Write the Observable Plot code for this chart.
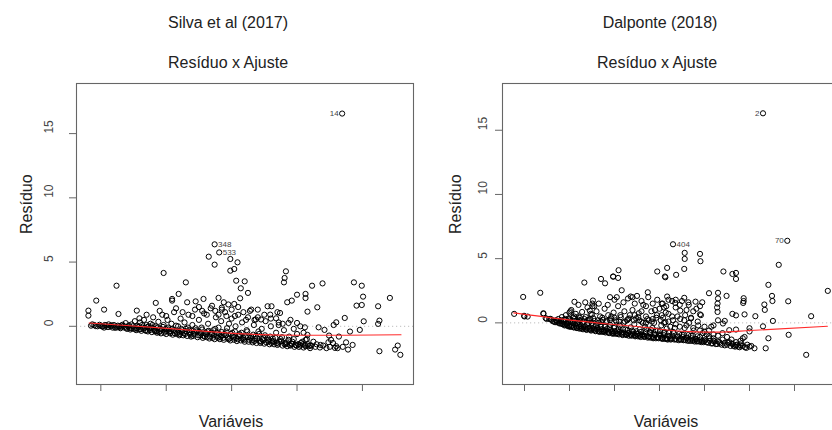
<!DOCTYPE html>
<html>
<head>
<meta charset="utf-8">
<script src="https://cdn.jsdelivr.net/npm/d3@7"></script>
<script src="https://cdn.jsdelivr.net/npm/@observablehq/plot@0.6"></script>
<style>
  html, body { margin: 0; padding: 0; background: #fff; overflow: hidden; }
  #wrap { position: relative; width: 832px; height: 430px; overflow: hidden; font-family: "Liberation Sans", Arial, sans-serif; }
  .t { position: absolute; transform: translate(-50%, -50%); white-space: nowrap; color: #222; font-size: 16px; }
  .panel { position: absolute; top: 0; }
</style>
</head>
<body>
<div id="wrap"></div>
<script>
// ---------------- DATA ----------------
const panelTitles = ["Silva et al (2017)", "Dalponte (2018)"];
const plotTitle = "Resíduo x Ajuste";
const xLabel = "Variáveis";
const yLabel = "Resíduo";
const yTicks = [0, 5, 10, 15];
const silvaXTicks = [1, 2, 3, 4, 5];
const dalponteXTicks = [1, 2, 3, 4, 5, 6, 7];

// Silva et al (2017): sparse points (fitted, residual)
const silvaScatter = [
  [4.69,16.56],[2.74,6.38],[2.81,5.75],[2.65,5.42],[2.74,4.80],[2.98,5.24],[3.09,4.98],[2.98,4.33],
  [3.04,4.46],[3.07,3.55],[3.20,3.50],[3.14,2.96],[3.25,2.60],[3.13,2.18],[3.83,4.28],[3.81,3.76],
  [3.80,3.42],[1.96,4.15],[1.24,3.16],[2.30,3.42],[2.19,2.52],[2.09,2.13],[2.09,2.0],[0.93,2.0],
  [1.05,1.30],[0.81,1.22],[0.81,0.83],[1.27,0.96],[1.55,1.22],[1.59,0.62],[1.84,1.82],[2.32,1.87],
  [2.45,1.94],[2.57,2.13],[2.80,2.21],[2.88,1.87],[3.04,1.74],[2.85,1.45],[3.40,1.30],[3.55,1.56],
  [3.61,1.56],[3.74,1.04],[3.59,0.91],[3.68,0.62],[3.85,1.87],[3.92,2.0],[4.00,2.46],[4.13,2.52],
  [4.13,2.2],[4.23,3.16],[4.39,3.34],[4.16,1.14],[4.31,1.48],[4.00,0.26],[3.87,0.26],[3.72,0.1],
  [3.45,0.53],[3.37,0.53],[4.56,0.1],[4.60,0.31],[4.73,0.65],[4.87,3.42],[4.99,3.16],[5.01,2.31],
  [4.99,1.66],[4.91,1.61],[5.02,0.39],[4.96,-0.28],[4.81,-0.41],[5.24,1.56],[5.42,2.21],[5.26,0.44],
  [5.24,0.19],[4.33,-0.08],[4.42,-0.28],[4.49,-0.72],[4.64,-0.80],[4.52,-1.06],[4.48,-1.24],[4.36,-1.45],
  [4.58,-1.68],[4.78,-1.81],[5.26,-1.94],[5.50,-1.81],[5.54,-1.50],[5.58,-2.22],[4.12,-0.08],[4.16,-0.67],
  [4.13,-1.06],[4.20,-1.50],[4.09,-1.4],[3.92,-1.37],[3.98,-1.45],[4.02,-1.4]
];
// Silva et al (2017): dense band
const silvaBand = [
  [0.85,0.05],[0.87,0.15],[0.9,0.1],[0.95,0.0],[1.0,0.05],[1.03,-0.02],[1.08,0.08],[1.1,-0.05],[1.15,0.02],
  [1.18,-0.1],[1.2,0.1],[1.25,-0.08],[1.28,0.0],[1.3,-0.15],[1.33,0.12],[1.36,-0.1],[1.38,0.25],[1.4,-0.2],
  [1.42,0.0],[1.45,-0.25],[1.47,0.15],[1.5,-0.2],[1.52,0.4],[1.54,-0.3],[1.56,0.05],[1.58,-0.25],[1.6,0.3],
  [1.62,-0.35],[1.64,-0.1],[1.66,0.5],[1.68,-0.3],[1.7,0.1],[1.72,-0.4],[1.74,-0.15],[1.76,0.2],[1.78,-0.45],
  [1.8,0.7],[1.82,-0.3],[1.84,0.0],[1.86,-0.5],[1.88,0.35],[1.9,-0.2],[1.92,-0.55],[1.94,0.9],[1.96,0.1],
  [1.98,-0.4],[2.0,-0.6],[2.02,0.5],[2.04,-0.25],[2.06,-0.55],[2.08,0.2],[2.1,-0.65],[2.12,1.1],[2.14,-0.35],
  [2.16,-0.6],[2.18,0.0],[2.2,-0.7],[2.22,0.6],[2.24,-0.45],[2.26,-0.7],[2.28,0.3],[2.3,-0.2],[2.32,-0.75],
  [2.34,0.9],[2.36,-0.5],[2.38,-0.8],[2.4,0.1],[2.42,-0.6],[2.44,1.3],[2.46,-0.3],[2.48,-0.85],[2.5,0.5],
  [2.52,-0.7],[2.54,-0.1],[2.56,-0.9],[2.58,1.0],[2.6,-0.5],[2.62,-0.85],[2.64,0.2],[2.66,-0.95],[2.68,1.4],
  [2.7,-0.6],[2.72,-0.3],[2.74,-1.0],[2.76,0.7],[2.78,-0.8],[2.8,-0.1],[2.82,-1.0],[2.84,0.4],[2.86,-0.7],
  [2.88,-1.05],[2.9,1.1],[2.92,-0.4],[2.94,-0.9],[2.96,0.2],[2.98,-1.1],[3.0,0.6],[3.02,-0.75],[3.04,-1.05],
  [3.06,0.0],[3.08,-1.15],[3.1,0.9],[3.12,-0.6],[3.14,-1.1],[3.16,0.3],[3.18,-0.9],[3.2,-1.2],[3.22,0.5],
  [3.24,-0.4],[3.26,-1.2],[3.28,1.2],[3.3,-0.8],[3.32,-1.25],[3.34,0.1],[3.36,-1.0],[3.38,-1.3],[3.4,0.7],
  [3.42,-0.6],[3.44,-1.3],[3.46,-0.2],[3.48,-1.1],[3.5,-1.35],[3.52,0.4],[3.55,-0.9],[3.58,-1.4],[3.6,0.0],
  [3.62,-1.2],[3.65,-1.4],[3.68,-0.5],[3.7,-1.45],[3.72,0.3],[3.75,-1.0],[3.78,-1.5],[3.8,-0.3],[3.82,-1.3],
  [3.85,-1.55],[3.88,-0.8],[3.9,-1.5],[3.93,-1.2],[3.96,-1.6],[4.0,-0.6],[4.03,-1.6],[4.06,-1.3],[4.1,-1.65],
  [4.15,-1.0],[4.2,-1.7],
  [1.05,-0.1],[1.12,0.15],[1.22,-0.12],[1.32,0.05],[1.44,-0.12],[1.55,-0.15],[1.65,-0.2],[1.73,0.0],[1.83,-0.4],
  [1.91,-0.35],[1.99,-0.2],[2.05,-0.45],[2.11,-0.3],[2.17,-0.5],[2.23,-0.2],[2.29,-0.6],[2.35,-0.3],[2.41,-0.75],
  [2.47,-0.4],[2.53,-0.55],[2.59,-0.8],[2.65,-0.35],[2.71,-0.9],[2.77,-0.5],[2.83,-0.85],[2.89,-0.6],[2.95,-1.0],
  [3.01,-0.5],[3.07,-0.9],[3.13,-0.7],[3.19,-1.05],[3.25,-0.85],[3.31,-1.1],[3.37,-0.75],[3.43,-1.15],[3.49,-0.9],
  [3.56,-1.2],[3.63,-0.95],[3.69,-1.3],[3.76,-1.15],[3.83,-1.4],[3.91,-1.35],[3.98,-1.45],[4.05,-1.5],[4.12,-1.45],
  [4.18,-1.55],
  [1.7,0.9],[1.9,1.2],[2.0,0.8],[2.15,1.4],[2.25,1.1],[2.4,0.8],[2.5,1.5],[2.55,1.2],[2.62,0.9],[2.7,1.6],
  [2.75,1.2],[2.8,0.9],[2.85,1.3],[2.92,0.8],[2.95,1.7],[3.0,1.3],[3.05,0.8],[3.1,1.5],[3.18,1.1],[3.25,0.7],
  [3.3,1.3],[3.35,0.5],[3.5,0.9],[3.6,0.6],[3.7,1.1],[3.78,0.2],[3.9,0.5],[3.95,-0.2],[4.05,0.0],[4.1,-0.5],
  [4.25,-1.2],[4.3,-1.4],[4.4,-1.5],[4.45,-1.7],[4.55,-1.3],[4.6,-1.55]
];
// Silva et al (2017): lower, darkest part of the band
const silvaCore = [
  [0.92,0.02],[0.98,0.12],[1.02,0.0],[1.06,0.1],[1.12,-0.05],[1.16,0.08],[1.21,-0.02],[1.26,0.05],[1.31,-0.08],
  [1.35,0.02],[1.39,-0.12],[1.43,0.08],[1.46,-0.15],[1.49,0.0],[1.53,-0.18],[1.57,-0.05],[1.61,-0.22],[1.63,0.1],
  [1.67,-0.12],[1.69,-0.35],[1.71,-0.05],[1.75,-0.3],[1.77,-0.1],[1.79,0.1],[1.81,-0.2],[1.85,-0.38],[1.87,-0.1],
  [1.89,-0.45],[1.93,-0.25],[1.95,-0.05],[1.97,-0.5],[2.01,-0.35],[2.03,-0.1],[2.07,-0.4],[2.09,-0.2],[2.13,-0.55],
  [2.15,0.05],[2.19,-0.4],[2.21,-0.6],[2.25,-0.3],[2.27,-0.55],[2.31,-0.4],[2.33,-0.1],[2.37,-0.65],[2.39,-0.35],
  [2.43,-0.5],[2.45,-0.15],[2.49,-0.7],[2.51,-0.45],[2.55,-0.25],[2.57,-0.75],[2.61,-0.6],[2.63,-0.4],[2.67,-0.8],
  [2.69,-0.5],[2.73,-0.7],[2.75,-0.2],[2.79,-0.9],[2.81,-0.6],[2.85,-0.45],[2.87,-0.9],[2.91,-0.7],[2.93,-0.15],
  [2.97,-0.95],[2.99,-0.6],[3.03,-0.85],[3.05,-0.4],[3.09,-1.0],[3.11,-0.75],[3.15,-0.5],[3.17,-1.0],[3.21,-0.8],
  [3.23,-0.3],[3.27,-1.05],[3.29,-0.9],[3.33,-0.65],[3.35,-1.15],[3.39,-0.95],[3.41,-0.4],[3.45,-1.2],[3.47,-1.0],
  [3.51,-0.7],[3.53,-1.25],[3.57,-1.05],[3.59,-0.8],[3.61,-1.3],[3.64,-1.15],[3.67,-0.9],[3.71,-1.35],[3.73,-1.2],
  [3.77,-0.85],[3.81,-1.4],[3.84,-1.25],[3.87,-1.05],[3.89,-1.45],[3.92,-1.35],[3.95,-1.0],[3.99,-1.5],[4.02,-1.4],
  [4.08,-1.2],[4.13,-1.55],[4.17,-1.4],[4.22,-1.5],[4.28,-1.6],[4.35,-1.65],[4.5,-1.6],[4.62,-1.7],[4.7,-1.6],
  [4.85,-1.45],[4.75,-1.25]
];
const silvaSmooth = [[0.82,0.26],[1.91,-0.12],[3.44,-0.65],[4.0,-0.7],[4.6,-0.7],[5.59,-0.66]];
const silvaIds = [
  {x:4.69, y:16.56, id:"14", side:"left"},
  {x:2.74, y:6.38, id:"348", side:"right"},
  {x:2.81, y:5.75, id:"533", side:"right"}
];

// Dalponte (2018): sparse points
const dalponteScatter = [
  [6.30,16.32],[6.84,6.39],[4.30,6.12],[4.56,5.45],[4.56,4.98],[4.55,4.20],[4.90,5.37],[4.91,4.80],
  [4.37,3.74],[4.17,4.28],[3.95,4.0],[4.12,3.61],[4.13,3.55],[3.09,4.10],[3.08,3.50],[2.97,3.61],
  [2.79,3.08],[2.70,3.42],[2.33,3.14],[3.16,2.54],[3.74,2.38],[2.52,1.74],[2.51,1.3],[2.11,1.64],
  [1.35,2.34],[0.97,2.02],[0.77,0.70],[0.99,0.55],[1.0,0.5],[1.42,0.70],[1.47,0.37],[1.58,0.31],
  [5.42,4.0],[5.62,3.81],[5.70,3.89],[5.70,3.42],[5.10,2.31],[5.30,2.34],[5.49,2.1],[5.3,1.9],
  [5.29,1.5],[5.28,1.2],[5.29,0.85],[5.87,1.92],[5.87,1.7],[5.86,1.55],[5.89,0.66],[5.70,0.58],
  [5.62,0.7],[6.13,0.52],[6.3,-0.27],[6.34,1.01],[6.33,1.43],[6.42,2.96],[6.65,4.52],[6.50,2.1],
  [6.51,1.7],[6.86,1.68],[6.52,0.15],[6.42,-1.2],[6.36,-1.98],[6.87,-0.93],[7.37,0.52],[7.74,2.49],
  [7.26,-2.49],[6.11,-1.98],[6.04,-1.8],[6.0,-0.42],[6.0,-0.67],[5.89,-1.1],[5.70,-0.52],[5.55,-0.57],
  [5.41,-0.05],[5.6,-1.6],[5.7,-1.75],[5.8,-1.75],[5.45,-1.55],[5.3,-1.45],[5.2,-1.4],[5.1,-1.05],
  [5.0,-0.7],[5.15,-0.3],[5.2,-0.2],[5.3,0.2],[5.45,0.15],[4.92,0.6],[4.9,0.66],[4.9,1.3],
  [4.82,1.1],[4.95,1.6],[4.8,1.65],[4.64,1.6],[4.55,1.95],[4.36,1.8],[4.28,1.7],[4.17,2.05],
  [4.07,1.5],[4.1,1.2],[4.36,1.2],[4.46,0.95],[4.57,0.6],[4.7,0.35],[2.97,3.6],[2.51,1.5],
  [3.36,2.05],[3.4,2.0],[2.02,0.9],[2.0,0.8],[2.1,0.5],[2.45,0.95],[2.47,0.7],[1.07,0.49],
  [1.42,0.75],[1.49,0.31],[1.55,0.3]
];
// Dalponte (2018): dense band
const dalponteBand = [
  [1.6,0.25],[1.65,0.1],[1.7,0.2],[1.72,0.05],[1.75,0.3],[1.78,-0.05],[1.8,0.15],[1.83,0.45],[1.85,-0.1],
  [1.88,0.25],[1.9,-0.15],[1.92,0.6],[1.94,0.0],[1.96,-0.25],[1.98,0.35],[2.0,-0.3],[2.02,0.1],[2.04,1.0],
  [2.06,-0.2],[2.08,0.4],[2.1,-0.35],[2.12,0.15],[2.14,0.7],[2.16,-0.4],[2.18,0.0],[2.2,0.5],[2.22,-0.45],
  [2.24,0.2],[2.26,-0.25],[2.28,0.85],[2.3,-0.5],[2.32,0.1],[2.34,-0.3],[2.36,0.45],[2.38,-0.55],[2.4,1.2],
  [2.42,0.0],[2.44,-0.45],[2.46,0.3],[2.48,-0.6],[2.5,0.65],[2.52,-0.2],[2.54,-0.55],[2.56,0.15],[2.58,-0.65],
  [2.6,0.9],[2.62,-0.4],[2.64,0.0],[2.66,-0.7],[2.68,0.5],[2.7,-0.3],[2.72,-0.7],[2.74,0.25],[2.76,-0.55],
  [2.78,1.1],[2.8,-0.75],[2.82,0.05],[2.84,-0.45],[2.86,0.6],[2.88,-0.8],[2.9,-0.15],[2.92,0.35],[2.94,-0.65],
  [2.96,-0.85],[2.98,0.8],[3.0,-0.3],[3.02,-0.85],[3.04,0.1],[3.06,-0.6],[3.08,1.3],[3.1,-0.9],[3.12,-0.2],
  [3.14,0.45],[3.16,-0.75],[3.18,-0.95],[3.2,0.0],[3.22,0.9],[3.24,-0.5],[3.26,-0.95],[3.28,0.2],[3.3,-0.8],
  [3.32,-1.0],[3.34,0.6],[3.36,-0.35],[3.38,-1.0],[3.4,1.0],[3.42,-0.7],[3.44,-0.1],[3.46,-1.05],[3.48,0.35],
  [3.5,-0.85],[3.52,-1.05],[3.54,0.75],[3.56,-0.5],[3.58,-1.1],[3.6,0.1],[3.62,-0.9],[3.64,1.4],[3.66,-1.1],
  [3.68,-0.3],[3.7,0.5],[3.72,-1.0],[3.74,-1.15],[3.76,0.2],[3.78,-0.7],[3.8,-1.15],[3.82,0.9],[3.84,-0.4],
  [3.86,-1.2],[3.88,0.0],[3.9,-0.95],[3.92,-1.2],[3.94,0.6],[3.96,-0.6],[3.98,-1.2],[4.0,1.1],[4.02,-1.0],
  [4.04,-0.2],[4.06,-1.25],[4.08,0.4],[4.1,-0.8],[4.12,-1.25],[4.14,0.8],[4.16,-0.45],[4.18,-1.3],[4.2,0.1],
  [4.22,-1.05],[4.25,-1.3],[4.28,0.5],[4.3,-0.7],[4.33,-1.3],[4.36,-0.1],[4.4,-1.1],[4.43,-1.35],[4.46,0.3],
  [4.5,-0.9],[4.53,-1.35],[4.56,-0.4],[4.6,-1.2],[4.63,-1.4],[4.66,0.0],[4.7,-1.0],[4.73,-1.4],[4.76,-0.6],
  [4.8,-1.3],[4.83,-1.45],[4.86,-0.2],[4.9,-1.1],[4.93,-1.5],[4.96,-0.8],[5.0,-1.4],[5.05,-1.5],[5.1,-1.2],
  [5.15,-1.6],[5.2,-0.9],[5.25,-1.65],[5.35,-1.6],[5.4,-1.3],[5.5,-1.7],[5.55,-1.5],[5.65,-1.8],[5.75,-1.85],
  [5.82,-1.6],[5.9,-1.9],[6.0,-1.85],
  [1.82,-0.05],[1.95,-0.15],[2.05,-0.25],[2.15,-0.3],[2.25,-0.4],[2.35,-0.45],[2.45,-0.5],[2.55,-0.45],
  [2.65,-0.6],[2.75,-0.65],[2.85,-0.7],[2.95,-0.75],[3.05,-0.8],[3.15,-0.85],[3.25,-0.85],[3.35,-0.9],
  [3.45,-0.95],[3.55,-1.0],[3.65,-1.0],[3.75,-1.05],[3.85,-1.1],[3.95,-1.1],[4.05,-1.15],[4.15,-1.2],
  [4.25,-1.2],[4.35,-1.25],[4.45,-1.25],[4.55,-1.3],[4.65,-1.3],[4.75,-1.35],[4.85,-1.4],[4.95,-1.4],
  [2.0,0.3],[2.2,0.25],[2.4,0.2],[2.5,0.0],[2.7,0.1],[2.9,0.2],[3.0,0.4],[3.1,0.1],[3.3,0.3],[3.45,0.6],
  [3.55,0.2],[3.6,0.9],[3.7,0.0],[3.85,0.3],[3.9,1.0],[4.05,0.6],[4.1,0.0],[4.2,0.7],[4.3,0.2],[4.4,0.5],
  [4.45,-0.3],[4.55,0.2],[4.6,-0.2],[4.7,0.4],[4.75,-0.4],[4.85,0.1],[4.9,-0.6],[5.0,-0.3],[5.05,-0.9],
  [5.1,-0.6],[5.2,-1.2],[5.3,-1.0],[5.4,-0.8],[5.5,-1.1],[5.6,-1.3],[5.7,-1.5],[5.8,-1.4],[5.85,-1.2],[5.95,-1.7],
  [2.2,1.4],[2.35,1.6],[2.55,1.3],[2.65,1.5],[2.85,1.4],[2.9,2.0],[3.0,1.8],[3.05,2.0],[3.2,1.6],[3.3,1.9],
  [3.45,1.5],[3.5,2.1],[3.6,1.7],[3.7,1.3],[3.75,2.0],[3.85,1.5],[3.95,1.8],[4.05,1.5],[4.15,1.3],[4.2,1.8],
  [4.35,1.55],[4.45,1.4],[4.5,1.7],[4.6,1.0],[4.65,1.4],[4.75,0.9]
];
// Dalponte (2018): lower, darkest part of the band
const dalponteCore = [
  [1.62,0.15],[1.68,0.05],[1.73,0.15],[1.77,0.0],[1.81,0.2],[1.84,-0.08],[1.87,0.1],[1.89,-0.2],[1.91,0.3],
  [1.93,-0.1],[1.97,0.05],[1.99,-0.25],[2.01,0.2],[2.03,-0.3],[2.07,0.0],[2.09,-0.35],[2.11,0.3],[2.13,-0.15],
  [2.17,-0.4],[2.19,0.1],[2.21,-0.3],[2.23,0.4],[2.27,-0.45],[2.29,0.05],[2.31,-0.35],[2.33,0.3],[2.37,-0.5],
  [2.39,-0.1],[2.41,-0.4],[2.43,0.25],[2.47,-0.55],[2.49,-0.05],[2.51,-0.45],[2.53,0.35],[2.57,-0.6],[2.59,-0.2],
  [2.61,-0.5],[2.63,0.2],[2.67,-0.65],[2.69,-0.15],[2.71,-0.5],[2.73,0.4],[2.77,-0.7],[2.79,-0.3],[2.81,-0.6],
  [2.83,0.15],[2.87,-0.75],[2.89,-0.35],[2.91,-0.55],[2.93,0.5],[2.97,-0.8],[2.99,-0.4],[3.01,-0.65],[3.03,0.2],
  [3.07,-0.85],[3.09,-0.45],[3.11,-0.7],[3.13,0.6],[3.17,-0.9],[3.19,-0.5],[3.21,-0.75],[3.23,0.1],[3.27,-0.9],
  [3.29,-0.55],[3.31,-0.8],[3.33,0.35],[3.37,-0.95],[3.39,-0.6],[3.41,-0.85],[3.43,0.2],[3.47,-1.0],[3.49,-0.65],
  [3.51,-0.9],[3.53,0.45],[3.57,-1.0],[3.59,-0.7],[3.61,-0.95],[3.63,0.0],[3.67,-1.05],[3.69,-0.75],[3.71,-0.5],
  [3.73,0.3],[3.77,-1.1],[3.79,-0.8],[3.81,-0.55],[3.83,0.1],[3.87,-1.15],[3.89,-0.85],[3.91,-0.6],[3.93,0.4],
  [3.97,-1.15],[3.99,-0.9],[4.01,-0.65],[4.03,0.2],[4.07,-1.2],[4.09,-0.95],[4.11,-0.7],[4.13,0.05],[4.17,-1.25],
  [4.19,-1.0],[4.21,-0.75],[4.24,-0.3],[4.27,-1.25],[4.29,-1.0],[4.32,-0.8],[4.34,-0.4],[4.38,-1.3],[4.41,-1.05],
  [4.44,-0.85],[4.48,-1.3],[4.51,-1.1],[4.54,-0.9],[4.58,-1.35],[4.61,-1.15],[4.64,-0.95],[4.68,-1.4],[4.71,-1.2],
  [4.74,-1.0],[4.78,-1.45],[4.81,-1.25],[4.84,-1.05],[4.88,-1.45],[4.91,-1.3],[4.98,-1.5],[5.02,-1.3],[5.08,-1.55],
  [5.12,-1.4],[5.18,-1.6],[5.22,-1.45],[5.28,-1.65],[5.33,-1.5],[5.38,-1.7],[5.45,-1.75],[5.52,-1.55],[5.58,-1.8],
  [5.63,-1.65],[5.68,-1.85],[5.72,-1.7],[5.78,-1.9],[5.85,-1.8],[5.93,-1.95]
];
const dalponteSmooth = [[0.76,0.78],[1.8,0.31],[2.98,-0.13],[3.8,-0.39],[4.02,-0.5],[4.69,-0.68],[5.28,-0.72],[6.02,-0.6],[7.73,-0.26]];
const dalponteIds = [
  {x:6.30, y:16.32, id:"2", side:"left"},
  {x:6.84, y:6.39, id:"70", side:"left"},
  {x:4.30, y:6.12, id:"404", side:"right"}
];

// ---------------- DRAWING ----------------
const wrap = document.getElementById("wrap");

function panel({left, points, smooth, ids, xDomain, yDomain, xTicks, tickLabelDx, yTitleDx}) {
  const pts = points.map(([x, y]) => ({x, y}));
  const sm = smooth.map(([x, y]) => ({x, y}));
  const chart = Plot.plot({
    width: 420, height: 430,
    marginLeft: 76, marginRight: 7, marginTop: 83, marginBottom: 46,
    style: {fontFamily: "Liberation Sans, Arial, sans-serif", background: "transparent", overflow: "visible"},
    x: {domain: xDomain},
    y: {domain: yDomain},
    marks: [
      Plot.ruleY([0], {stroke: "#bdbdbd", strokeWidth: 1, strokeDasharray: "1.2,2.8"}),
      Plot.dot(pts, {x: "x", y: "y", r: 2.6, stroke: "#000", strokeWidth: 1, fill: "none"}),
      Plot.line(sm, {x: "x", y: "y", stroke: "#ff2a2a", strokeWidth: 1.1, curve: "monotone-x"}),
      Plot.text(ids.filter(d => d.side === "left"), {x: "x", y: "y", text: "id", textAnchor: "end", dx: -3.5, fontSize: 8, fill: "#444"}),
      Plot.text(ids.filter(d => d.side === "right"), {x: "x", y: "y", text: "id", textAnchor: "start", dx: 3.5, fontSize: 8, fill: "#444"}),
      Plot.frame({stroke: "#666", strokeWidth: 1.1}),
      Plot.axisX({ticks: xTicks, tickSize: 7, tickFormat: () => "", stroke: "#666", label: null, tickPadding: 0}),
      Plot.axisY({ticks: yTicks, tickSize: 7, tickFormat: () => "", stroke: "#666", label: null}),
      Plot.text(yTicks, {y: d => d, text: d => String(d), frameAnchor: "left", dx: tickLabelDx, rotate: -90, fontSize: 12, fill: "#444"}),
      Plot.text([yLabel], {frameAnchor: "left", dx: yTitleDx, rotate: -90, fontSize: 16, fill: "#222"})
    ]
  });
  chart.classList.add("panel");
  chart.style.left = left + "px";
  wrap.appendChild(chart);
}

panel({left: 0, points: silvaCore.concat(silvaBand, silvaScatter), smooth: silvaSmooth, ids: silvaIds,
  xDomain: [0.628, 5.781], yDomain: [-4.53, 18.9], xTicks: silvaXTicks, tickLabelDx: -27, yTitleDx: -50});
panel({left: 426, points: dalponteCore.concat(dalponteBand, dalponteScatter), smooth: dalponteSmooth, ids: dalponteIds,
  xDomain: [0.511, 8.0], yDomain: [-4.80, 18.64], xTicks: dalponteXTicks, tickLabelDx: -19, yTitleDx: -47});

function addText(txt, x, y) {
  const d = document.createElement("div");
  d.className = "t";
  d.textContent = txt;
  d.style.left = x + "px";
  d.style.top = y + "px";
  wrap.appendChild(d);
}
addText(panelTitles[0], 228, 23);
addText(panelTitles[1], 660, 23);
addText(plotTitle, 228, 63);
addText(plotTitle, 657, 63);
addText(xLabel, 231, 422);
addText(xLabel, 666, 422);
</script>
</body>
</html>
